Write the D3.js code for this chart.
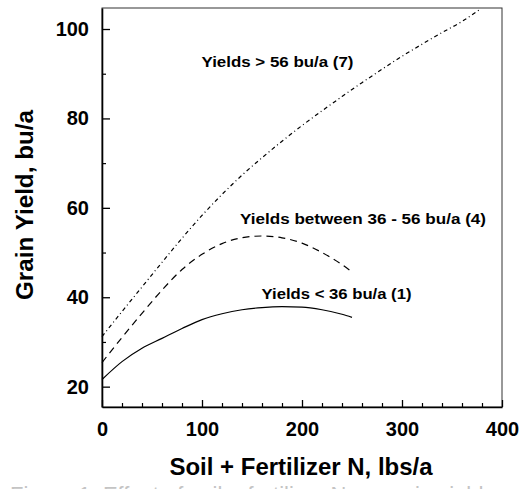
<!DOCTYPE html>
<html>
<head>
<meta charset="utf-8">
<script src="https://cdn.jsdelivr.net/npm/d3@7/dist/d3.min.js"></script>
<style>
  html, body { margin: 0; padding: 0; background: #fff; }
  svg { display: block; }
  text { font-family: "Liberation Sans", Arial, Helvetica, sans-serif; fill: #000; }
</style>
</head>
<body>
<svg id="chart" width="519" height="489"></svg>
<script>
// ---- data ----
const xTicks = [0, 100, 200, 300, 400];
const yTicks = [20, 40, 60, 80, 100];
const xMinorTicks = [20, 40, 60, 80, 120, 140, 160, 180, 220, 240, 260, 280, 320, 340, 360, 380];
const yMinorTicks = [30, 50, 70, 90];

const seriesNames = ["Yields > 56 bu/a (7)", "Yields between 36 - 56 bu/a (4)", "Yields < 36 bu/a (1)"];

const highN = [0, 20, 40, 60, 80, 100, 120, 140, 160, 180, 200, 220, 240, 260, 280, 300, 320, 340, 360, 378];
const highYield = [31.2, 36.8, 42.3, 47.8, 53.2, 58.3, 63.0, 67.3, 71.2, 74.9, 78.4, 81.7, 84.9, 88.0, 91.0, 93.9, 96.6, 99.2, 101.7, 104.4];

const midN = [0, 20, 40, 60, 80, 100, 120, 140, 160, 180, 200, 220, 240, 248];
const midYield = [25.4, 31.0, 36.4, 41.6, 46.2, 49.6, 52.0, 53.3, 53.7, 53.3, 52.1, 50.0, 47.3, 46.0];

const lowN = [0, 20, 40, 60, 80, 100, 120, 140, 160, 180, 200, 220, 240, 250];
const lowYield = [21.6, 25.6, 28.6, 30.8, 33.0, 35.0, 36.3, 37.2, 37.7, 37.9, 37.8, 37.2, 36.2, 35.5];

// label anchors [N, yield] (left end of each curve label) and text widths in px
const labelPos = [[99.5, 92.3], [138, 57.3], [159.5, 40.5]];
const labelWidth = [152, 246, 150];

const xTitle = "Soil + Fertilizer N, lbs/a";
const yTitle = "Grain Yield, bu/a";
const caption = "Figure 1. Effect of soil + fertilizer N on grain yield";

// ---- layout ----
const svg = d3.select("#chart");
const mLeft = 102, mRight = 502, mTop = 8, mBottom = 407;

const x = d3.scaleLinear().domain([0, 400]).range([mLeft, mRight]);
const y = d3.scaleLinear().domain([15.45, 104.7]).range([mBottom, mTop]);

// frame
svg.append("rect")
  .attr("x", mLeft).attr("y", mTop)
  .attr("width", mRight - mLeft).attr("height", mBottom - mTop)
  .attr("fill", "none").attr("stroke", "#333").attr("stroke-width", 1);

// axes (ticks inward)
const xAxis = d3.axisBottom(x).tickValues(xTicks).tickSizeInner(-7).tickSizeOuter(0).tickPadding(15).tickFormat(d3.format("d"));
const gx = svg.append("g").attr("transform", `translate(0,${mBottom})`).call(xAxis);
gx.select(".domain").attr("stroke", "#000").attr("stroke-width", 1.6);
gx.selectAll(".tick line").attr("stroke", "#000").attr("stroke-width", 1.3);
gx.selectAll(".tick text").attr("font-size", 20).attr("font-weight", "bold")
  .style("font-family", "'Liberation Sans', Arial, sans-serif");

const xMinor = d3.axisBottom(x).tickValues(xMinorTicks).tickSizeInner(-4).tickSizeOuter(0).tickFormat("");
const gxm = svg.append("g").attr("transform", `translate(0,${mBottom})`).call(xMinor);
gxm.select(".domain").remove();
gxm.selectAll(".tick line").attr("stroke", "#000").attr("stroke-width", 1.2);

const yAxis = d3.axisLeft(y).tickValues(yTicks).tickSizeInner(-8).tickSizeOuter(0).tickPadding(13).tickFormat(d3.format("d"));
const gy = svg.append("g").attr("transform", `translate(${mLeft},0)`).call(yAxis);
gy.select(".domain").attr("stroke", "#000").attr("stroke-width", 1.6);
gy.selectAll(".tick line").attr("stroke", "#000").attr("stroke-width", 1.3);
gy.selectAll(".tick text").attr("font-size", 20).attr("font-weight", "bold")
  .style("font-family", "'Liberation Sans', Arial, sans-serif");

const yMinor = d3.axisLeft(y).tickValues(yMinorTicks).tickSizeInner(-4).tickSizeOuter(0).tickFormat("");
const gym = svg.append("g").attr("transform", `translate(${mLeft},0)`).call(yMinor);
gym.select(".domain").remove();
gym.selectAll(".tick line").attr("stroke", "#000").attr("stroke-width", 1.2);

// curves
const line = d3.line().x(d => x(d[0])).y(d => y(d[1])).curve(d3.curveMonotoneX);
const series = [
  { pts: d3.zip(highN, highYield), dash: "4,3,1,3" },
  { pts: d3.zip(midN, midYield), dash: "7,5" },
  { pts: d3.zip(lowN, lowYield), dash: null }
];
series.forEach(s => {
  svg.append("path")
    .attr("d", line(s.pts))
    .attr("fill", "none")
    .attr("stroke", "#000")
    .attr("stroke-width", 1.2)
    .attr("stroke-dasharray", s.dash);
});

// curve labels
seriesNames.forEach((name, i) => {
  svg.append("text")
    .attr("x", x(labelPos[i][0]))
    .attr("y", y(labelPos[i][1]))
    .attr("font-size", 15)
    .attr("font-weight", "bold")
    .attr("dominant-baseline", "middle")
    .attr("textLength", labelWidth[i])
    .attr("lengthAdjust", "spacingAndGlyphs")
    .text(name);
});

// axis titles
svg.append("text")
  .attr("x", 301).attr("y", 475)
  .attr("text-anchor", "middle")
  .attr("font-size", 23)
  .attr("font-weight", "bold")
  .attr("textLength", 263)
  .attr("lengthAdjust", "spacingAndGlyphs")
  .text(xTitle);

svg.append("text")
  .attr("transform", `translate(33,205) rotate(-90)`)
  .attr("text-anchor", "middle")
  .attr("font-size", 23)
  .attr("font-weight", "bold")
  .attr("textLength", 190)
  .attr("lengthAdjust", "spacingAndGlyphs")
  .text(yTitle);

// faint caption (cut off at the bottom, as in the reference)
svg.append("text")
  .attr("x", 10).attr("y", 502)
  .attr("font-size", 22)
  .style("fill", "#c4c4c4")
  .text(caption);
</script>
</body>
</html>
